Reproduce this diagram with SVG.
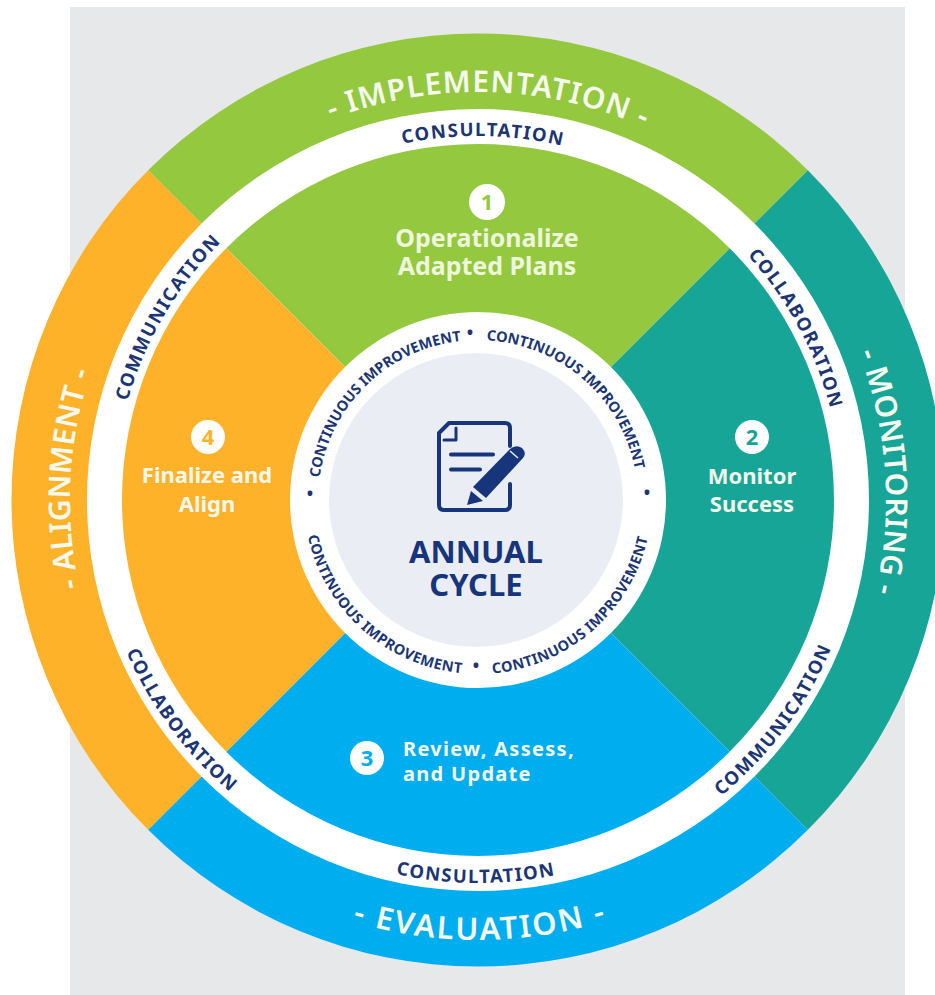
<svg xmlns="http://www.w3.org/2000/svg" width="935" height="995" viewBox="0 0 935 995">
<style>
text{font-family:"Noto Sans","Open Sans","Liberation Sans",sans-serif;text-anchor:middle}
.outer{font-size:30px;font-weight:600;fill:#f6f9ee;letter-spacing:1.100px}
.mid{font-size:18.500px;font-weight:700;fill:#1c3674;letter-spacing:1.500px}
.inn{font-size:14.500px;font-weight:700;fill:#1c3674}
.low{letter-spacing:.4px}
.dot{font-size:17px;font-weight:700;fill:#1c3674}
.lab{font-size:22px;font-weight:700;fill:#f4f8ea}
.num{font-size:22px;font-weight:700}
.title{font-size:31px;font-weight:700;fill:#16357a}
.ic{fill:none;stroke:#16357a;stroke-width:4;stroke-linecap:round;stroke-linejoin:round}
</style>
<defs>
<path id="ocw" d="M70,500A408,408 0 0 1 886,500"/>
<path id="occ" d="M38,500A440,440 0 0 0 918,500"/>
<path id="mcw" d="M114,500A364,364 0 0 1 842,500"/>
<path id="mcc" d="M95,500A383,383 0 0 0 861,500"/>
<path id="icw" d="M318,500A160,160 0 0 1 638,500"/>
<path id="icc" d="M304,500A174,174 0 0 0 652,500"/>
</defs>
<rect x="70" y="7" width="835" height="988" fill="#e7e8ea"/>
<g id="implementation">
<path d="M478,500L148.140,170.140A466.500,466.500 0 0 1 807.860,170.140Z" fill="#93c83f"/>
</g>
<g id="monitoring">
<path d="M478,500L807.860,170.140A466.500,466.500 0 0 1 807.860,829.860Z" fill="#17a597"/>
</g>
<g id="evaluation">
<path d="M478,500L807.860,829.860A466.500,466.500 0 0 1 148.140,829.860Z" fill="#00aeef"/>
</g>
<g id="alignment">
<path d="M478,500L148.140,829.860A466.500,466.500 0 0 1 148.140,170.140Z" fill="#fdb22a"/>
</g>
<circle id="white-ring" cx="478" cy="500" r="391" fill="#fff"/>
<g id="step-1">
<path d="M478,500L226.270,248.270A356,356 0 0 1 729.730,248.270Z" fill="#93c83f"/>
<circle cx="487" cy="202" r="18" fill="#fff"/>
<text class="num" x="487" y="210" fill="#93c83f">1</text>
<text class="lab" x="487" y="247" style="font-size:25px;fill:#eef6dc">Operationalize</text>
<text class="lab" x="487" y="275" style="font-size:25px;fill:#eef6dc">Adapted Plans</text>
</g>
<g id="step-2">
<path d="M478,500L729.730,248.270A356,356 0 0 1 729.730,751.730Z" fill="#17a597"/>
<circle cx="752" cy="437" r="17" fill="#fff"/>
<text class="num" x="752" y="445" fill="#17a597">2</text>
<text class="lab" x="752" y="484">Monitor</text>
<text class="lab" x="752" y="512">Success</text>
</g>
<g id="step-3">
<path d="M478,500L729.730,751.730A356,356 0 0 1 226.270,751.730Z" fill="#00aeef"/>
<circle cx="367" cy="758" r="17" fill="#fff"/>
<text class="num" x="367" y="766" fill="#00aeef">3</text>
<text class="lab" x="403" y="756" style="text-anchor:start;font-size:20px;letter-spacing:1.300px">Review, Assess,</text>
<text class="lab" x="403" y="781" style="text-anchor:start;font-size:20px;letter-spacing:1.300px">and Update</text>
</g>
<g id="step-4">
<path d="M478,500L226.270,751.730A356,356 0 0 1 226.270,248.270Z" fill="#fdb22a"/>
<circle cx="208" cy="437" r="17" fill="#fff"/>
<text class="num" x="208" y="445" fill="#fdb22a">4</text>
<text class="lab" x="207" y="483">Finalize and</text>
<text class="lab" x="207" y="512">Align</text>
</g>
<g id="outer-labels">
<text class="outer" transform="rotate(1.500 478 500)"><textPath href="#ocw" startOffset="50%">- IMPLEMENTATION -</textPath></text>
<text class="outer" transform="rotate(86 478 500)" style="letter-spacing:.5px"><textPath href="#ocw" startOffset="50%">- MONITORING -</textPath></text>
<text class="outer" transform="rotate(-0.300 478 500)" style="font-size:31px;letter-spacing:2.200px"><textPath href="#occ" startOffset="50%">- EVALUATION -</textPath></text>
<text class="outer" transform="rotate(-87 478 500)" style="letter-spacing:.4px"><textPath href="#ocw" startOffset="50%">- ALIGNMENT -</textPath></text>
</g>
<g id="ring-labels">
<text class="mid" transform="rotate(0.800 478 500)"><textPath href="#mcw" startOffset="50%">CONSULTATION</textPath></text>
<text class="mid" transform="rotate(61.700 478 500)"><textPath href="#mcw" startOffset="50%">COLLABORATION</textPath></text>
<text class="mid" transform="rotate(-53.400 478 500)"><textPath href="#mcc" startOffset="50%">COMMUNICATION</textPath></text>
<text class="mid" transform="rotate(0.300 478 500)"><textPath href="#mcc" startOffset="50%">CONSULTATION</textPath></text>
<text class="mid" transform="rotate(53.400 478 500)"><textPath href="#mcc" startOffset="50%">COLLABORATION</textPath></text>
<text class="mid" transform="rotate(-59.500 478 500)"><textPath href="#mcw" startOffset="50%">COMMUNICATION</textPath></text>
</g>
<g id="centre">
<circle cx="478" cy="500" r="188" fill="#fff"/>
<circle cx="476" cy="500" r="147" fill="#ebedf4"/>
<text class="inn" transform="rotate(-44 478 500)"><textPath href="#icw" startOffset="50%">CONTINUOUS IMPROVEMENT</textPath></text>
<text class="inn" transform="rotate(41 478 500)"><textPath href="#icw" startOffset="50%">CONTINUOUS IMPROVEMENT</textPath></text>
<text class="inn low" transform="rotate(41.700 478 500)"><textPath href="#icc" startOffset="50%">CONTINUOUS IMPROVEMENT</textPath></text>
<text class="inn low" transform="rotate(-41.200 478 500)"><textPath href="#icc" startOffset="50%">CONTINUOUS IMPROVEMENT</textPath></text>
<text class="dot" x="470" y="339">•</text>
<text class="dot" x="647" y="499">•</text>
<text class="dot" x="476" y="672">•</text>
<text class="dot" x="310" y="500">•</text>
<g id="icon">
<path class="ic" d="M510,446V428Q510,423 505,423H449L439,433V505Q439,510 444,510H505Q510,510 510,505V484"/>
<path class="ic" d="M456,428V440H444" style="stroke-width:3"/>
<path class="ic" d="M451,454.500H493M451,469.500H480"/>
<path d="M473,487L510,449Q516,444 522,448Q527,453 523,458L486,498Z" fill="#16357a"/>
<path d="M467,505L471,491L483,501Z" fill="#16357a"/>
<path d="M510,451L518,458" stroke="#ebedf4" stroke-width="1.500" fill="none"/>
</g>
<text class="title" x="476" y="563">ANNUAL</text>
<text class="title" x="476" y="596">CYCLE</text>
</g>
</svg>
